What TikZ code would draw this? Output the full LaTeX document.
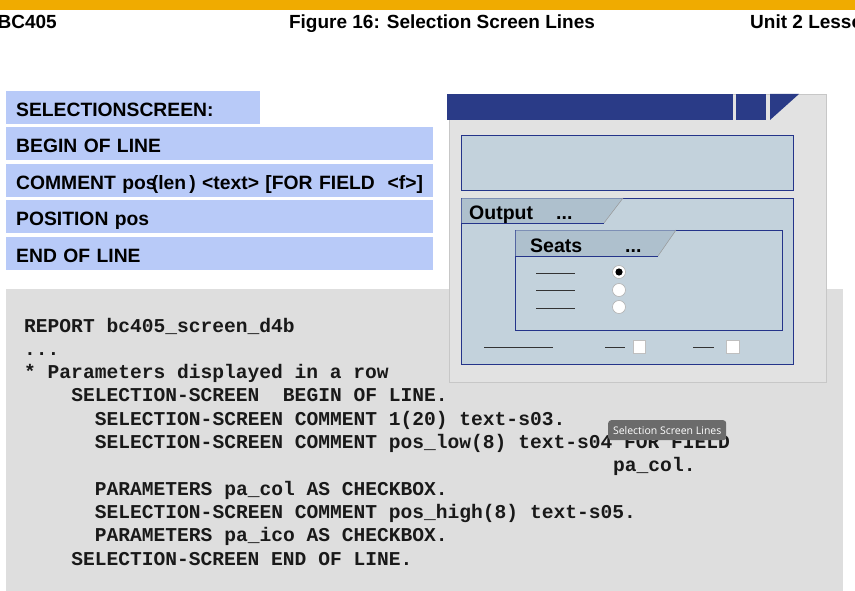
\documentclass[tikz,border=0pt]{standalone}
\usepackage{fontspec}
\setmainfont{Liberation Sans}
\setmonofont{Liberation Mono}
\newfontfamily\tipfont{Open Sans}
\usepackage{xcolor}
\usepackage{tikz}
\usetikzlibrary{positioning}

\definecolor{sapgold}{HTML}{F0AB00}
\definecolor{kwblue}{HTML}{B8CAF8}
\definecolor{codegray}{HTML}{DEDEDE}
\definecolor{wingray}{HTML}{E2E2E2}
\definecolor{titleblue}{HTML}{2A3B87}
\definecolor{framefill}{HTML}{C3D2DC}
\definecolor{tabfill}{HTML}{AEC0CD}
\definecolor{frameline}{HTML}{24348A}
\definecolor{tipgray}{HTML}{6B6B6B}

\begin{document}
\begin{tikzpicture}[
    x=1pt, y=-1pt,
    kwbox/.style={fill=kwblue, anchor=north west, minimum height=33pt, inner xsep=10pt, inner ysep=0pt, align=left, text depth=0pt, text height=17pt, font=\fontsize{19.3}{22}\selectfont\bfseries},
    code/.style={anchor=base west, inner sep=0pt, text=black!90, font=\fontsize{19.6}{23}\selectfont\ttfamily\bfseries},
    head/.style={anchor=base, inner sep=0pt, font=\fontsize{19}{22}\selectfont\bfseries},
    scrtext/.style={anchor=base west, inner sep=0pt, font=\fontsize{19.5}{22}\selectfont\bfseries},
    frame/.style={draw=frameline, fill=framefill, line width=0.9pt},
    tab/.style={fill=tabfill},
    field/.style={line width=0.8pt, black!80},
    radio/.style={draw=black!30, fill=white, line width=0.6pt},
    chk/.style={draw=black!25, fill=white, line width=0.6pt}
]
\useasboundingbox (0,0) rectangle (855,591);
\clip (0,0) rectangle (855,591);
\fill[white] (0,0) rectangle (855,591);

% page header
\fill[sapgold] (0,0) rectangle (855,10);
\node[head, anchor=base east] (hleft) at (57,29) {BC405};
\node[head] (htitle) at (442,29) {Figure 16: Selection Screen Lines};
\node[head, anchor=base west] (hright) at (750,29) {Unit 2 Lesson 1};

% keyword boxes
\node[kwbox, text width=234pt] (kw1) at (6,91) {SELECTIONSCREEN:};
\node[kwbox, text width=407pt] (kw2) at (6,127) {BEGIN OF LINE};
\node[kwbox, text width=407pt] (kw3) at (6,164) {\mbox{COMMENT pos\kern-0.25em(len\,) <text> [FOR FIELD\ \ <f>]}};
\node[kwbox, text width=407pt] (kw4) at (6,200) {POSITION pos};
\node[kwbox, text width=407pt] (kw5) at (6,237) {END OF LINE};

% code panel
\fill[codegray] (6,289) rectangle (843,591);
\node[code] (c1) at (24,332) {REPORT bc405\_screen\_d4b};
\node[code] (c2) at (24,355.3) {...};
\node[code] (c3) at (24,378.6) {* Parameters displayed in a row};
\node[code] (c4) at (71.1,401.9) {SELECTION-SCREEN\ \ BEGIN OF LINE.};
\node[code] (c5) at (94.7,425.2) {SELECTION-SCREEN COMMENT 1(20) text-s03.};
\node[code] (c6) at (94.7,448.5) {SELECTION-SCREEN COMMENT pos\_low(8) text-s04 FOR FIELD};
\node[code] (c7) at (613,471.8) {pa\_col.};
\node[code] (c8) at (94.7,495.1) {PARAMETERS pa\_col AS CHECKBOX.};
\node[code] (c9) at (94.7,518.4) {SELECTION-SCREEN COMMENT pos\_high(8) text-s05.};
\node[code] (c10) at (94.7,541.7) {PARAMETERS pa\_ico AS CHECKBOX.};
\node[code] (c11) at (71.1,565) {SELECTION-SCREEN END OF LINE.};

% screen window
\filldraw[fill=wingray, draw=black!22, line width=0.8pt] (449,94) rectangle (826,382);
\fill[titleblue] (447,94) rectangle (733,120);
\fill[titleblue] (736,94) rectangle (766,120);
\fill[titleblue] (770,94) -- (799,94) -- (770,120) -- cycle;
\draw[frame] (461,135) rectangle (793,190);

% Output group
\draw[frame] (461,198) rectangle (793,364);
\fill[tab] (461.5,198.5) -- (623,198.5) -- (604,223) -- (461.5,223) -- cycle;
\draw[frameline, line width=0.6pt] (461,223) -- (604,223);
\draw[black!40, line width=0.5pt] (604,223) -- (623,198);
\node[scrtext] (tout) at (469,219) {Output};
\node[scrtext] (tout2) at (556,219) {...};

% Seats group
\draw[frame] (515,230) rectangle (782,330);
\fill[tab] (515.5,230.5) -- (676,230.5) -- (658,256) -- (515.5,256) -- cycle;
\draw[frameline, line width=0.6pt] (515,256) -- (658,256);
\draw[black!40, line width=0.5pt] (658,256) -- (676,230);
\node[scrtext] (tseat) at (530,252) {Seats};
\node[scrtext] (tseat2) at (625,252) {...};

\draw[field] (536,273) -- (575,273);
\draw[field] (536,290) -- (575,290);
\draw[field] (536,308) -- (575,308);
\filldraw[radio] (619,272) circle (6.5);
\fill[black] (619,272) circle (3.6);
\filldraw[radio] (619,290) circle (6.5);
\filldraw[radio] (619,307) circle (6.5);

% line with checkboxes
\draw[field] (484,347) -- (553,347);
\draw[field] (605,347) -- (625,347);
\filldraw[chk] (633,340) rectangle (645,353);
\draw[field] (693,347) -- (714,347);
\filldraw[chk] (726,340) rectangle (739,353);

% tooltip
\node[fill=tipgray, rounded corners=3pt, text=white, anchor=north west, minimum width=118pt, minimum height=20pt, inner sep=2pt, font=\tipfont\fontsize{10.5}{12}\selectfont] (tip) at (608,420) {Selection Screen Lines};
\end{tikzpicture}
\end{document}
